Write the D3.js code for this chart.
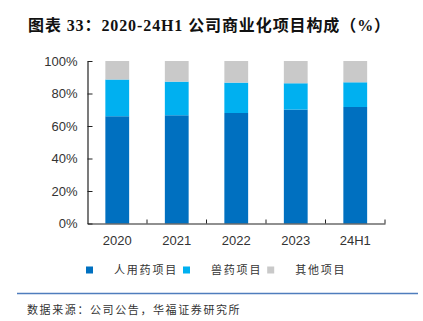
<!DOCTYPE html>
<html>
<head>
<meta charset="utf-8">
<script src="https://cdn.jsdelivr.net/npm/d3@7"></script>
<style>
  body { margin: 0; background: #fff; }
  svg { display: block; }
</style>
</head>
<body>
<div id="chart-container"></div>
<script>
// data (share of revenue, %)
const categories = ["2020", "2021", "2022", "2023", "24H1"];
const humanDrug = [66.0, 66.6, 68.0, 70.1, 71.7];
const vetDrug = [22.6, 20.7, 18.7, 16.2, 15.2];
const otherProj = [11.4, 12.7, 13.3, 13.7, 13.1];
const seriesNames = ["人用药项目", "兽药项目", "其他项目"];
const yTicks = [0, 20, 40, 60, 80, 100];

const chartWidth = 423;
const chartHeight = 321;
const chartMarginTop = 61;
const chartMarginLeft = 87.5;
const chartRight = 385;
const chartBottom = 223.5;

const colors = ["#0070c0", "#00b0f0", "#c9c9c9"];

const table = categories.map((c, i) => ({
    cat: c, s0: humanDrug[i], s1: vetDrug[i], s2: otherProj[i]
}));
const stacked = d3.stack().keys(["s0", "s1", "s2"])(table);

const x = d3.scaleBand()
    .domain(categories)
    .range([chartMarginLeft, chartRight])
    .padding(0);

const y = d3.scaleLinear()
    .domain([0, 100])
    .range([chartBottom, chartMarginTop]);

const barWidth = x.bandwidth() * 0.4;

const chart = d3.select("#chart-container").append("svg")
    .attr("width", chartWidth)
    .attr("height", chartHeight);

// title
chart.append("text")
    .attr("x", 28)
    .attr("y", 25)
    .attr("dy", "0.35em")
    .attr("font-family", "'Liberation Serif', 'Noto Sans CJK SC', serif")
    .attr("font-weight", "bold")
    .attr("font-size", 16)
    .attr("letter-spacing", 0.9)
    .attr("fill", "#111")
    .text("图表 33：2020-24H1 公司商业化项目构成（%）");

// bars
chart.selectAll(".layer")
    .data(stacked)
    .enter()
    .append("g")
    .attr("class", "layer")
    .attr("fill", (d, i) => colors[i])
    .selectAll("rect")
    .data(d => d)
    .enter()
    .append("rect")
    .attr("x", d => x(d.data.cat) + (x.bandwidth() - barWidth) / 2)
    .attr("y", d => y(d[1]))
    .attr("width", barWidth)
    .attr("height", d => y(d[0]) - y(d[1]));

// y-axis
const yAxis = chart.append("g")
    .attr("transform", `translate(${chartMarginLeft}, 0)`)
    .call(d3.axisLeft(y)
        .tickValues(yTicks)
        .tickFormat(d => d + "%")
        .tickSizeInner(-5)
        .tickSizeOuter(0)
        .tickPadding(10));

// x-axis (labels only, ticks drawn at band edges below)
const xAxis = chart.append("g")
    .attr("transform", `translate(0, ${chartBottom})`)
    .call(d3.axisBottom(x).tickSize(0).tickPadding(12));

xAxis.selectAll(".edge")
    .data(categories)
    .enter()
    .append("line")
    .attr("class", "edge")
    .attr("x1", d => x(d) + x.bandwidth())
    .attr("x2", d => x(d) + x.bandwidth())
    .attr("y1", 0)
    .attr("y2", -4)
    .attr("stroke", "#222");

[yAxis, xAxis].forEach(a => {
    a.select(".domain").attr("stroke", "#222").attr("stroke-width", 1.2);
    a.selectAll(".tick line").attr("stroke", "#222");
    a.selectAll("text")
        .attr("font-family", "'Liberation Sans', Arial, sans-serif")
        .attr("font-size", 13)
        .attr("fill", "#333");
});

// legend
const legend = chart.append("g").attr("transform", "translate(86, 270)");
let lx = 0;
seriesNames.forEach((name, i) => {
    const g = legend.append("g").attr("transform", `translate(${lx}, 0)`);
    g.append("rect")
        .attr("x", 0).attr("y", -3.5)
        .attr("width", 7).attr("height", 7)
        .attr("fill", colors[i]);
    const t = g.append("text")
        .attr("x", 28)
        .attr("dy", "0.35em")
        .attr("font-family", "'Noto Sans CJK SC', sans-serif")
        .attr("font-size", 11)
        .attr("letter-spacing", 1.8)
        .attr("fill", "#333")
        .text(name);
    lx += 28 + t.node().getComputedTextLength() + 5;
});

// source
chart.append("line")
    .attr("x1", 17).attr("x2", 418)
    .attr("y1", 293.5).attr("y2", 293.5)
    .attr("stroke", "#4f7dbd")
    .attr("stroke-width", 1.5);

chart.append("text")
    .attr("x", 27)
    .attr("y", 310)
    .attr("dy", "0.35em")
    .attr("font-family", "'Noto Sans CJK SC', sans-serif")
    .attr("font-size", 11)
    .attr("letter-spacing", 1.6)
    .attr("fill", "#333")
    .text("数据来源：公司公告，华福证券研究所");
</script>
</body>
</html>
